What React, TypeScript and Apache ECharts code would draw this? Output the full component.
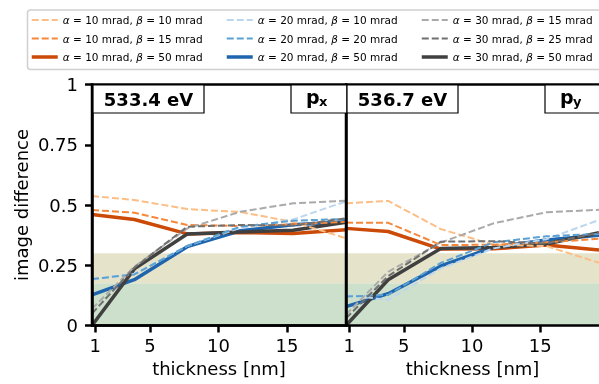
import React, { useEffect, useRef } from "react";
import * as echarts from "echarts";

const thickness = [0.77, 3.86, 7.72, 11.58, 15.44, 19.3];
const xTicks = [1, 5, 10, 15];
const bandEdges = [0, 0.175, 0.3];
const bandColors = ["#cde0cb", "#e5e4cb"];

const seriesNames = [
  "α = 10 mrad, β = 10 mrad",
  "α = 10 mrad, β = 15 mrad",
  "α = 10 mrad, β = 50 mrad",
  "α = 20 mrad, β = 10 mrad",
  "α = 20 mrad, β = 20 mrad",
  "α = 20 mrad, β = 50 mrad",
  "α = 30 mrad, β = 15 mrad",
  "α = 30 mrad, β = 25 mrad",
  "α = 30 mrad, β = 50 mrad",
];
const seriesColors = ["#fdbe85", "#f5883b", "#cb4a07", "#bcd6ee", "#5ba1d3", "#1f65ad", "#aaaaaa", "#707070", "#404040"];
const seriesDashed = [true, true, false, true, true, false, true, true, false];

// Panel 1: 533.4 eV, p_x
const px_a10b10 = [0.537, 0.521, 0.483, 0.471, 0.43, 0.362];
const px_a10b15 = [0.479, 0.468, 0.417, 0.413, 0.42, 0.43];
const px_a10b50 = [0.461, 0.44, 0.38, 0.386, 0.382, 0.397];
const px_a20b10 = [0.19, 0.215, 0.33, 0.405, 0.44, 0.515];
const px_a20b20 = [0.193, 0.212, 0.33, 0.41, 0.435, 0.442];
const px_a20b50 = [0.127, 0.19, 0.327, 0.393, 0.418, 0.43];
const px_a30b15 = [0.07, 0.244, 0.403, 0.472, 0.507, 0.518];
const px_a30b25 = [0.05, 0.24, 0.41, 0.417, 0.415, 0.445];
const px_a30b50 = [0.0, 0.235, 0.38, 0.388, 0.395, 0.428];

// Panel 2: 536.7 eV, p_y
const py_a10b10 = [0.507, 0.517, 0.4, 0.335, 0.33, 0.26];
const py_a10b15 = [0.427, 0.426, 0.334, 0.335, 0.345, 0.36];
const py_a10b50 = [0.403, 0.39, 0.317, 0.318, 0.334, 0.313];
const py_a20b10 = [0.127, 0.106, 0.237, 0.32, 0.358, 0.438];
const py_a20b20 = [0.12, 0.127, 0.26, 0.345, 0.37, 0.38];
const py_a20b50 = [0.078, 0.132, 0.247, 0.325, 0.355, 0.375];
const py_a30b15 = [0.045, 0.223, 0.344, 0.424, 0.47, 0.48];
const py_a30b25 = [0.03, 0.205, 0.348, 0.35, 0.34, 0.385];
const py_a30b50 = [0.0, 0.19, 0.32, 0.324, 0.338, 0.385];

const panelLeft = [px_a10b10, px_a10b15, px_a10b50, px_a20b10, px_a20b20, px_a20b50, px_a30b15, px_a30b25, px_a30b50];
const panelRight = [py_a10b10, py_a10b15, py_a10b50, py_a20b10, py_a20b20, py_a20b50, py_a30b15, py_a30b25, py_a30b50];

const FONT = "DejaVu Sans";
const SPINE = { color: "#000", width: 2.5 };

export default function App() {
  const ref = useRef<HTMLDivElement>(null);
  useEffect(() => {
    if (!ref.current) return;
    const chart = echarts.init(ref.current, null, { renderer: "svg" });

    const grids = [
      { left: 92, top: 84.5, width: 254, height: 241, show: true, borderColor: "#000", borderWidth: 2.5, backgroundColor: "transparent", z: 6 },
      { left: 346, top: 84.5, width: 254, height: 241, show: false },
    ];

    const mkX = (gi: number) => ({
      type: "value",
      gridIndex: gi,
      z: 6,
      min: thickness[0],
      max: thickness[thickness.length - 1],
      name: "thickness [nm]",
      nameLocation: "middle",
      nameGap: 34,
      nameTextStyle: { fontSize: 18, color: "#000", fontFamily: FONT },
      axisLine: { show: true, lineStyle: SPINE },
      axisTick: { show: true, inside: false, length: 7, lineStyle: SPINE, customValues: xTicks },
      axisLabel: { show: true, fontSize: 18, color: "#000", fontFamily: FONT, margin: 11, customValues: xTicks },
      splitLine: { show: false },
    });
    const topX = {
      type: "value",
      gridIndex: 1,
      position: "top",
      z: 6,
      min: thickness[0],
      max: thickness[thickness.length - 1],
      axisLine: { show: true, lineStyle: SPINE },
      axisTick: { show: false },
      axisLabel: { show: false },
      splitLine: { show: false },
    };

    const yAxes = [
      {
        type: "value",
        gridIndex: 0,
        z: 6,
        min: 0,
        max: 1,
        interval: 0.25,
        name: "image difference",
        nameLocation: "middle",
        nameGap: 62,
        nameTextStyle: { fontSize: 18, color: "#000", fontFamily: FONT },
        axisLine: { show: true, lineStyle: SPINE },
        axisTick: { show: true, inside: false, length: 7, lineStyle: SPINE },
        axisLabel: { fontSize: 18, color: "#000", fontFamily: FONT, margin: 14, formatter: (v: number) => String(v) },
        splitLine: { show: false },
      },
      {
        type: "value",
        gridIndex: 1,
        z: 6,
        min: 0,
        max: 1,
        interval: 0.25,
        axisLine: { show: true, lineStyle: SPINE },
        axisTick: { show: false },
        axisLabel: { show: false },
        splitLine: { show: false },
      },
    ];

    const series: any[] = [];
    [0, 1].forEach((gi) => {
      series.push({
        type: "line",
        name: "bands",
        xAxisIndex: gi,
        yAxisIndex: gi,
        data: [],
        silent: true,
        z: 0,
        markArea: {
          silent: true,
          data: bandColors.map((c, i) => [
            { yAxis: bandEdges[i], itemStyle: { color: c } },
            { yAxis: bandEdges[i + 1] },
          ]),
        },
      });
      const vals = gi === 0 ? panelLeft : panelRight;
      seriesNames.forEach((name, i) => {
        series.push({
          type: "line",
          name,
          xAxisIndex: gi,
          yAxisIndex: gi,
          data: thickness.map((t, k) => [t, vals[i][k]]),
          symbol: "none",
          z: seriesDashed[i] ? 4 : 3,
          color: seriesColors[i],
          lineStyle: seriesDashed[i]
            ? { color: seriesColors[i], width: 2, type: [7, 3] }
            : { color: seriesColors[i], width: 3.5, type: "solid" },
        });
      });
    });

    const legendCols = [
      [0, 1, 2],
      [3, 4, 5],
      [6, 7, 8],
    ];
    const legendLefts = [30, 225, 420];
    const legends = legendCols.map((col, ci) => ({
      orient: "vertical",
      left: legendLefts[ci],
      top: 14,
      itemWidth: 26,
      itemHeight: 12,
      itemGap: 6.5,
      padding: 0,
      itemStyle: { opacity: 0 },
      lineStyle: { width: "inherit" },
      data: col.map((i) => seriesNames[i]),
      textStyle: {
        fontSize: 10.5,
        lineHeight: 12,
        color: "#000",
        fontFamily: FONT,
        rich: { i: { fontStyle: "italic", fontSize: 10.5, fontFamily: FONT, color: "#000" } },
      },
      formatter: (name: string) => name.replace(/([αβ])/g, "{i|$1}"),
    }));

    const boxText = (x: number, w: number, label: string) => [
      { type: "rect", shape: { x, y: 85, width: w, height: 28 }, style: { fill: "#fff", stroke: "#000", lineWidth: 1.2 }, z: 20 },
      {
        type: "text",
        x: x + w / 2,
        y: 99.5,
        style: { text: label, font: `bold 18px "${FONT}"`, fill: "#000", align: "center", verticalAlign: "middle" },
        z: 21,
      },
    ];
    const pBox = (x: number, sub: string) => [
      { type: "rect", shape: { x, y: 85, width: 56, height: 28 }, style: { fill: "#fff", stroke: "#000", lineWidth: 1.2 }, z: 20 },
      {
        type: "text",
        x: x + 15,
        y: 97,
        style: { text: "p", font: `bold 19px "${FONT}"`, fill: "#000", align: "left", verticalAlign: "middle" },
        z: 21,
      },
      {
        type: "text",
        x: x + 28,
        y: 101,
        style: { text: sub, font: `bold 13px "${FONT}"`, fill: "#000", align: "left", verticalAlign: "middle" },
        z: 21,
      },
    ];

    chart.setOption({
      animation: false,
      textStyle: { fontFamily: FONT },
      grid: grids,
      xAxis: [mkX(0), mkX(1), topX],
      yAxis: yAxes,
      legend: legends,
      series,
      graphic: [
        {
          type: "rect",
          shape: { x: 27.5, y: 10, width: 600, height: 59.5, r: 3 },
          style: { fill: "#fff", stroke: "#d0d0d0", lineWidth: 1.5 },
          z: -1,
          silent: true,
        },
        ...boxText(93, 111, "533.4 eV"),
        ...pBox(291, "x"),
        ...boxText(347, 111, "536.7 eV"),
        ...pBox(545, "y"),
      ],
    });
    return () => chart.dispose();
  }, []);
  return <div ref={ref} style={{ position: "fixed", left: 0, top: 0, width: 599, height: 384 }} />;
}
